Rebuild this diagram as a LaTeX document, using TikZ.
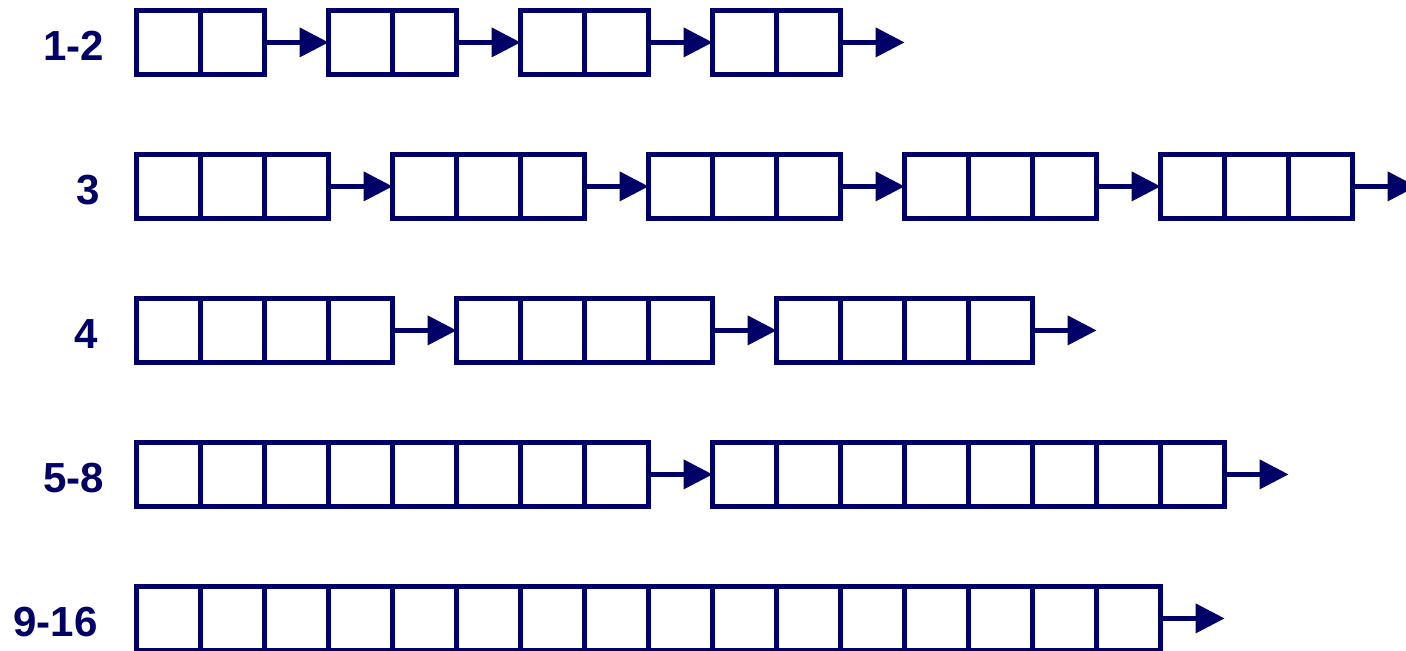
\documentclass[tikz,border=0pt]{standalone}
\usepackage{fontspec}
\setmainfont{Liberation Sans}
\usetikzlibrary{arrows.meta,positioning}
\definecolor{navy}{HTML}{000066}
\newcommand{\blockcells}[2]{\foreach \k in {1,...,#2}{\draw[cellline] ([xshift=\k cm]#1.north west) -- ([xshift=\k cm]#1.south west);}}

\begin{document}
\begin{tikzpicture}[
  node distance=1cm,
  block/.style={draw=navy, line width=1.9pt, minimum height=1cm, inner sep=0pt, outer sep=0pt},
  cellline/.style={draw=navy, line width=1.9pt},
  arrow/.style={-{Triangle[length=4.5mm, width=4.5mm]}, line width=1.9pt, draw=navy},
  lbl/.style={text=navy, font=\fontsize{18.7}{22}\selectfont\bfseries, inner sep=0pt, yshift=-0.06cm}
]
\useasboundingbox (-2.133,0.6625) rectangle (19.836,-9.509);
% row 1-2
\node[block, minimum width=2cm, anchor=west] (r1a) at (0,0) {};
\node[block, minimum width=2cm, right=of r1a] (r1b) {};
\node[block, minimum width=2cm, right=of r1b] (r1c) {};
\node[block, minimum width=2cm, right=of r1c] (r1d) {};
\coordinate[right=of r1d] (r1end);
\foreach \b in {r1a,r1b,r1c,r1d} {\blockcells{\b}{1}}
\node[lbl, left=0.5cm of r1a] (l1) {1-2};
\draw[arrow] (r1a) -- (r1b);
\draw[arrow] (r1b) -- (r1c);
\draw[arrow] (r1c) -- (r1d);
\draw[arrow] (r1d) -- (r1end);
% row 3
\node[block, minimum width=3cm, anchor=west] (r2a) at (0,-2.25) {};
\node[block, minimum width=3cm, right=of r2a] (r2b) {};
\node[block, minimum width=3cm, right=of r2b] (r2c) {};
\node[block, minimum width=3cm, right=of r2c] (r2d) {};
\node[block, minimum width=3cm, right=of r2d] (r2e) {};
\coordinate[right=of r2e] (r2end);
\foreach \b in {r2a,r2b,r2c,r2d,r2e} {\blockcells{\b}{2}}
\node[lbl, left=0.57cm of r2a] (l2) {3};
\draw[arrow] (r2a) -- (r2b);
\draw[arrow] (r2b) -- (r2c);
\draw[arrow] (r2c) -- (r2d);
\draw[arrow] (r2d) -- (r2e);
\draw[arrow] (r2e) -- (r2end);
% row 4
\node[block, minimum width=4cm, anchor=west] (r3a) at (0,-4.5) {};
\node[block, minimum width=4cm, right=of r3a] (r3b) {};
\node[block, minimum width=4cm, right=of r3b] (r3c) {};
\coordinate[right=of r3c] (r3end);
\foreach \b in {r3a,r3b,r3c} {\blockcells{\b}{3}}
\node[lbl, left=0.6cm of r3a] (l3) {4};
\draw[arrow] (r3a) -- (r3b);
\draw[arrow] (r3b) -- (r3c);
\draw[arrow] (r3c) -- (r3end);
% row 5-8
\node[block, minimum width=8cm, anchor=west] (r4a) at (0,-6.75) {};
\node[block, minimum width=8cm, right=of r4a] (r4b) {};
\coordinate[right=of r4b] (r4end);
\foreach \b in {r4a,r4b} {\blockcells{\b}{7}}
\node[lbl, left=0.5cm of r4a] (l4) {5-8};
\draw[arrow] (r4a) -- (r4b);
\draw[arrow] (r4b) -- (r4end);
% row 9-16
\node[block, minimum width=16cm, anchor=west] (r5a) at (0,-9) {};
\coordinate[right=of r5a] (r5end);
\blockcells{r5a}{15}
\node[lbl, left=0.6cm of r5a] (l5) {9-16};
\draw[arrow] (r5a) -- (r5end);
\end{tikzpicture}
\end{document}
